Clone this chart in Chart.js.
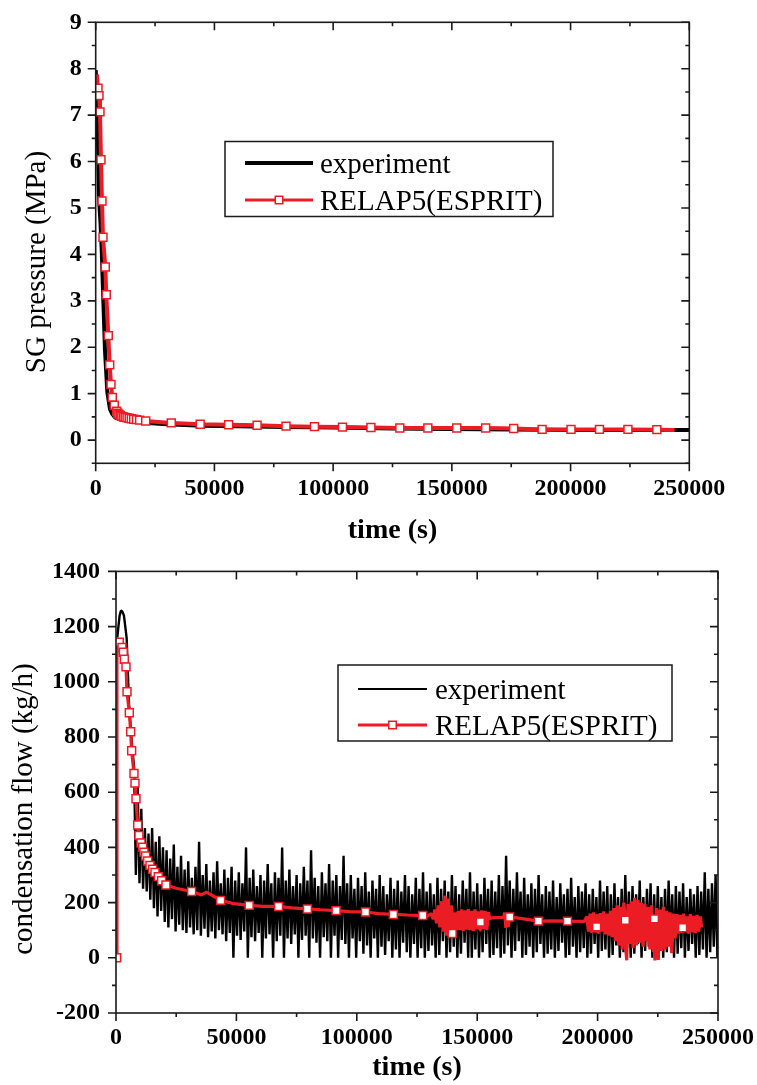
<!DOCTYPE html>
<html><head><meta charset="utf-8">
<script src="https://cdn.jsdelivr.net/npm/chart.js@4.4.1/dist/chart.umd.min.js"></script>
<style>html,body{margin:0;padding:0;background:#fff;}canvas{display:block;}</style>
</head><body>
<canvas id="c1" width="757" height="550"></canvas>
<canvas id="c2" width="757" height="535"></canvas>
<script>
// ---------------- DATA ----------------
const seriesNames = ['experiment', 'RELAP5(ESPRIT)'];

// Top chart: SG pressure (MPa) vs time (s)
const topXTicks = [0, 50000, 100000, 150000, 200000, 250000];
const topYTicks = [0, 1, 2, 3, 4, 5, 6, 7, 8, 9];
const topExpTime = [0, 300, 700, 1000, 1400, 2000, 2530, 3200, 3900, 4900, 6000, 7000, 8100, 10000, 12000, 16000, 22000, 30000, 45000, 60000, 80000, 100000, 125000, 150000, 175000, 200000, 225000, 250000];
const topExpP    = [7.97, 7.6, 6.9, 6.3, 5.2, 4.7, 4.1, 3.03, 1.95, 1.03, 0.67, 0.56, 0.49, 0.45, 0.43, 0.41, 0.37, 0.34, 0.31, 0.30, 0.28, 0.27, 0.25, 0.24, 0.23, 0.22, 0.22, 0.22];
const topSimTime = [500, 970, 1390, 1810, 2230, 2650, 3070, 4050, 4470, 5310, 5900, 6440, 7000, 7830, 8840, 9300, 9800, 10400, 11000, 11700, 12400, 13200, 14100, 15000, 16000, 17200, 18500, 21060, 31836, 44007, 55993, 67978, 80150, 92135, 103933, 115918, 128090, 139888, 152060, 164232, 176030, 188015, 200187, 212172, 224157, 236330, 243800];
const topSimP    = [7.88, 7.58, 7.42, 7.07, 6.04, 5.15, 4.37, 3.73, 3.13, 2.25, 1.62, 1.2, 0.92, 0.75, 0.62, 0.58, 0.55, 0.53, 0.51, 0.5, 0.49, 0.48, 0.47, 0.46, 0.45, 0.44, 0.43, 0.41, 0.37, 0.34, 0.33, 0.32, 0.30, 0.29, 0.28, 0.27, 0.26, 0.26, 0.26, 0.26, 0.25, 0.23, 0.23, 0.23, 0.23, 0.225, 0.22];

// Bottom chart: condensation flow (kg/h) vs time (s)
const botXTicks = [0, 50000, 100000, 150000, 200000, 250000];
const botYTicks = [-200, 0, 200, 400, 600, 800, 1000, 1200, 1400];
const botExpEarlyTime = [550, 1000, 1500, 2080, 2600, 3300, 4000, 4430, 5400, 6500, 7000];
const botExpEarlyFlow = [1160, 1200, 1240, 1258, 1255, 1240, 1190, 1157, 919, 788, 740];
// measured signal, one reading every 750 s starting at 7500 s
const botExpNoiseStart = 7500;
const botExpNoiseStep = 750;
const botExpNoiseFlow = [
 690,300,620,270,540,250,470,240,450,210,470,180,420,150,440,170,400,130,390,110,
 360,140,410,95,330,120,370,100,320,90,350,110,290,85,330,100,420,80,300,105,
 340,75,280,95,310,70,350,100,270,85,320,60,290,90,330,0,280,80,310,65,
 270,95,400,0,290,75,320,60,260,90,300,0,280,70,340,85,270,0,310,60,
 290,80,400,0,280,70,320,50,260,85,300,0,270,65,330,80,280,0,390,70,
 290,55,260,0,310,75,270,60,340,0,280,80,300,0,260,65,370,50,270,0,
 300,70,250,0,290,60,260,15,310,45,240,0,280,70,250,0,300,40,260,10,
 230,60,290,0,250,30,280,0,240,55,300,20,260,0,230,50,290,0,250,35,
 310,0,240,25,270,45,230,0,290,10,250,60,280,0,240,20,300,40,260,0,
 230,15,280,55,250,0,310,0,240,30,270,0,230,20,290,50,250,0,280,10,
 240,35,300,0,260,15,370,45,280,0,250,25,310,60,240,0,290,10,230,40,
 270,0,250,20,300,50,230,0,260,15,240,30,280,0,220,25,270,55,230,0,
 250,10,290,40,220,0,260,20,240,35,270,0,230,15,250,50,220,0,280,25,
 240,30,260,0,230,10,270,45,220,0,250,20,300,35,240,0,260,15,230,50,
 280,0,220,25,250,40,270,0,230,10,260,30,220,0,250,20,280,45,230,0,
 260,15,240,35,270,0,220,25,250,50,230,0,260,10,240,30,310,0,250,20,
 270,40,300,0
];
// RELAP5 markers (on the computed curve)
const botSimMarkTime = [300,1370,2490,3040,3460,4150,4570,5530,6090,6500,7470,7890,8300,9000,9540,10380,11070,11620,12320,13150,14110,15220,16190,17570,18950,20750,31400,43450,55300,67500,79500,91400,103600,115200,127400,139600,151300,163500,175400,187500,199600,211500,223600,235300];
const botSimMarkFlow = [0,1143,1124,1107,1082,1054,964,888,819,750,668,633,576,481,443,416,401,383,369,351,335,321,309,294,279,264,240,208,190,186,177,171,166,157,153,88,130,148,133,133,112,136,141,109];
// RELAP5 computed curve between markers
const botSimLineTime = [400,25000,35500,37600,49000,61000,73000,85000,97000,109000,121000,129500,
 131000,131700,132400,133100,133800,134500,135200,135900,136600,137300,138000,138700,139400,140100,140800,141400,
 142100,142800,143500,144200,144900,145600,146300,147000,147700,148400,149100,149800,150500,151200,151900,152600,153300,154000,154700,155200,
 155800,161000,161400,161900,162400,162900,170000,181000,194500,
 195500,196200,196900,197600,198300,199000,199700,200400,201100,201800,202500,203200,203900,204600,205300,206000,206700,207400,208100,208800,
 209500,210200,210900,211600,212100,212600,213300,214000,214700,215400,216100,216800,217500,218200,218900,219600,220300,221000,221700,222400,
 223100,223800,224500,225200,225900,226600,227300,228000,228700,229400,230100,230800,231500,232200,232900,233600,234300,235000,235700,236400,
 237100,237800,238500,239200,239900,240600,241300,242000,242700,243200];
const botSimLineFlow = [1150,252,228,238,196,186,181,174,167,160,155,152,
 160,140,175,125,190,110,205,95,225,80,215,75,190,90,165,100,
 170,100,175,98,172,102,176,100,170,98,175,104,168,100,172,105,170,100,165,140,
 145,147,164,108,160,112,140,134,132,
 150,95,160,90,165,92,158,88,162,95,168,85,160,80,170,75,180,60,190,45,
 185,30,200,40,-9,195,50,205,35,217,45,210,55,200,40,195,60,185,30,190,
 20,-10,180,-8,175,25,185,30,170,40,165,17,160,70,158,88,155,90,160,95,
 150,88,158,92,152,90,155,95,150,110];

// ---------------- BUILD ----------------
const SERIF = '"Liberation Serif", "Times New Roman", serif';
const RED = '#ec1c24';
const pts = (xs, ys) => xs.map((x, i) => ({x, y: ys[i]}));

const topExp = pts(topExpTime, topExpP);
const topSim = pts(topSimTime, topSimP);
const botExp = pts(botExpEarlyTime, botExpEarlyFlow).concat(
  botExpNoiseFlow.map((v, i) => ({x: botExpNoiseStart + i * botExpNoiseStep, y: v})));
const botMarks = pts(botSimMarkTime, botSimMarkFlow);
const botSim = botMarks.concat(pts(botSimLineTime, botSimLineFlow)).sort((a, b) => a.x - b.x);

const framePlugin = {
  id: 'frame',
  afterDatasetsDraw(chart, args, o) {
    const {ctx, chartArea: a} = chart;
    const x = chart.scales.x, y = chart.scales.y;
    ctx.save();
    ctx.strokeStyle = '#1a1a1a'; ctx.lineWidth = 1.6;
    ctx.strokeRect(a.left, a.top, a.right - a.left, a.bottom - a.top);
    ctx.beginPath();
    const isMajor = (v, m) => Math.abs(v / m - Math.round(v / m)) < 1e-6;
    for (let k = Math.ceil(x.min / o.xMinor - 1e-9); k * o.xMinor <= x.max + 1e-6; k++) {
      const v = k * o.xMinor, p = x.getPixelForValue(v);
      const L = isMajor(v, o.xMajor) ? o.major : o.minor;
      ctx.moveTo(p, a.bottom); ctx.lineTo(p, a.bottom + L);
      ctx.moveTo(p, a.top); ctx.lineTo(p, a.top + L);
    }
    for (let k = Math.ceil(y.min / o.yMinor - 1e-9); k * o.yMinor <= y.max + 1e-6; k++) {
      const v = k * o.yMinor, p = y.getPixelForValue(v);
      const L = isMajor(v, o.yMajor) ? o.major : o.minor;
      ctx.moveTo(a.left, p); ctx.lineTo(a.left - L, p);
      ctx.moveTo(a.right, p); ctx.lineTo(a.right - L, p);
    }
    ctx.stroke();
    ctx.restore();
  },
  afterDraw(chart, args, o) {
    const ctx = chart.ctx, a = chart.chartArea;
    ctx.save();
    ctx.fillStyle = '#000';
    ctx.textAlign = 'center'; ctx.textBaseline = 'middle';
    ctx.font = o.xTitleFont;
    ctx.fillText(o.xTitle, (a.left + a.right) / 2, o.xTitleY);
    ctx.save();
    ctx.translate(o.yTitleX, o.yTitleY); ctx.rotate(-Math.PI / 2);
    ctx.font = o.yTitleFont;
    ctx.fillText(o.yTitle, 0, 0);
    ctx.restore();
    // legend
    const L = o.legend;
    ctx.fillStyle = '#fff';
    ctx.fillRect(L.box[0], L.box[1], L.box[2] - L.box[0], L.box[3] - L.box[1]);
    ctx.strokeStyle = '#1a1a1a'; ctx.lineWidth = 1.5;
    ctx.strokeRect(L.box[0], L.box[1], L.box[2] - L.box[0], L.box[3] - L.box[1]);
    L.items.forEach((it, i) => {
      const yy = L.rows[i];
      ctx.strokeStyle = it.color; ctx.lineWidth = it.width;
      ctx.beginPath(); ctx.moveTo(L.lineX[0], yy); ctx.lineTo(L.lineX[1], yy); ctx.stroke();
      if (it.marker) {
        const cx = (L.lineX[0] + L.lineX[1]) / 2, s = 7.5;
        ctx.fillStyle = '#fff'; ctx.fillRect(cx - s / 2, yy - s / 2, s, s);
        ctx.strokeStyle = RED; ctx.lineWidth = 1.5; ctx.strokeRect(cx - s / 2, yy - s / 2, s, s);
      }
      ctx.fillStyle = '#000'; ctx.font = L.font; ctx.textAlign = 'left'; ctx.textBaseline = 'alphabetic';
      ctx.fillText(seriesNames[i], L.textX, yy + 9.5);
    });
    ctx.restore();
  }
};

function makeScales(cfg) {
  const tickFont = {family: SERIF, size: 24, weight: 'bold'};
  return {
    x: {
      type: 'linear', min: cfg.xMin, max: cfg.xMax,
      afterFit: s => { s.height = cfg.xH; },
      afterBuildTicks: s => { s.ticks = cfg.xTicks.map(v => ({value: v})); },
      ticks: {font: tickFont, color: '#000', padding: cfg.xPad, maxRotation: 0, minRotation: 0, autoSkip: false, callback: v => String(v)},
      grid: {display: false, drawTicks: true, tickLength: cfg.tick},
      border: {display: false}
    },
    y: {
      type: 'linear', min: cfg.yMin, max: cfg.yMax,
      afterFit: s => { s.width = cfg.yW; },
      afterBuildTicks: s => { s.ticks = cfg.yTicks.map(v => ({value: v})); },
      ticks: {font: tickFont, color: '#000', padding: cfg.yPad, autoSkip: false, callback: v => String(v)},
      grid: {display: false, drawTicks: true, tickLength: cfg.tick},
      border: {display: false}
    }
  };
}

Chart.defaults.font.family = SERIF;

new Chart(document.getElementById('c1'), {
  type: 'scatter',
  data: {datasets: [
    {label: seriesNames[1], data: topSim, showLine: true, borderColor: RED, borderWidth: 4, tension: 0,
     pointStyle: 'rect', pointRadius: c => (c.dataIndex === 0 || c.dataIndex === topSim.length - 1) ? 0 : 5.6,
     pointBackgroundColor: '#fff', pointBorderColor: RED, pointBorderWidth: 1.5, borderJoinStyle: 'round'},
    {label: seriesNames[0], data: topExp, showLine: true, borderColor: '#000', borderWidth: 4, tension: 0,
     pointRadius: 0, borderJoinStyle: 'round'}
  ]},
  options: {
    responsive: false, animation: false, devicePixelRatio: 1, events: [],
    layout: {padding: {left: 0, right: 67.7, top: 22.3, bottom: 0}},
    scales: makeScales({xMin: 0, xMax: 250000, yMin: -0.5, yMax: 9, xH: 86.7, yW: 95.7,
      xTicks: topXTicks, yTicks: topYTicks, xPad: 2, yPad: 5, tick: 9}),
    plugins: {
      legend: {display: false}, tooltip: {enabled: false},
      frame: {xMinor: 25000, xMajor: 50000, yMinor: 0.5, yMajor: 1, major: 8, minor: 4,
        xTitle: 'time (s)', xTitleFont: 'bold 28px ' + SERIF, xTitleY: 531,
        yTitle: 'SG pressure (MPa)', yTitleFont: '29px ' + SERIF, yTitleX: 37, yTitleY: 262,
        legend: {box: [225, 141.5, 553, 216.5], lineX: [245, 313], rows: [163, 200], textX: 320, font: '29px ' + SERIF,
          items: [{color: '#000', width: 4, marker: false}, {color: RED, width: 3, marker: true}]}}
    }
  },
  plugins: [framePlugin]
});

new Chart(document.getElementById('c2'), {
  type: 'scatter',
  data: {datasets: [
    {label: seriesNames[1] + ' markers', data: botMarks, showLine: false, pointStyle: 'rect', pointRadius: 5.6,
     pointBackgroundColor: '#fff', pointBorderColor: RED, pointBorderWidth: 1.5},
    {label: seriesNames[1], data: botSim, showLine: true, borderColor: RED, borderWidth: 3.2, tension: 0,
     pointRadius: 0, borderJoinStyle: 'bevel'},
    {label: seriesNames[0], data: botExp, showLine: true, borderColor: '#000', borderWidth: 2.4, tension: 0,
     pointRadius: 0, borderJoinStyle: 'bevel'}
  ]},
  options: {
    responsive: false, animation: false, devicePixelRatio: 1, events: [],
    layout: {padding: {left: 0, right: 39, top: 15, bottom: 0}},
    scales: makeScales({xMin: 0, xMax: 250000, yMin: -200, yMax: 1400, xH: 72, yW: 116,
      xTicks: botXTicks, yTicks: botYTicks, xPad: 1, yPad: 7, tick: 9}),
    plugins: {
      legend: {display: false}, tooltip: {enabled: false},
      frame: {xMinor: 25000, xMajor: 50000, yMinor: 100, yMajor: 200, major: 8, minor: 4,
        xTitle: 'time (s)', xTitleFont: 'bold 28px ' + SERIF, xTitleY: 518,
        yTitle: 'condensation flow (kg/h)', yTitleFont: '29px ' + SERIF, yTitleX: 24, yTitleY: 259,
        legend: {box: [338, 115, 672, 191], lineX: [358, 427], rows: [139, 175], textX: 435, font: '29px ' + SERIF,
          items: [{color: '#000', width: 2, marker: false}, {color: RED, width: 3, marker: true}]}}
    }
  },
  plugins: [framePlugin]
});
</script>
</body></html>
